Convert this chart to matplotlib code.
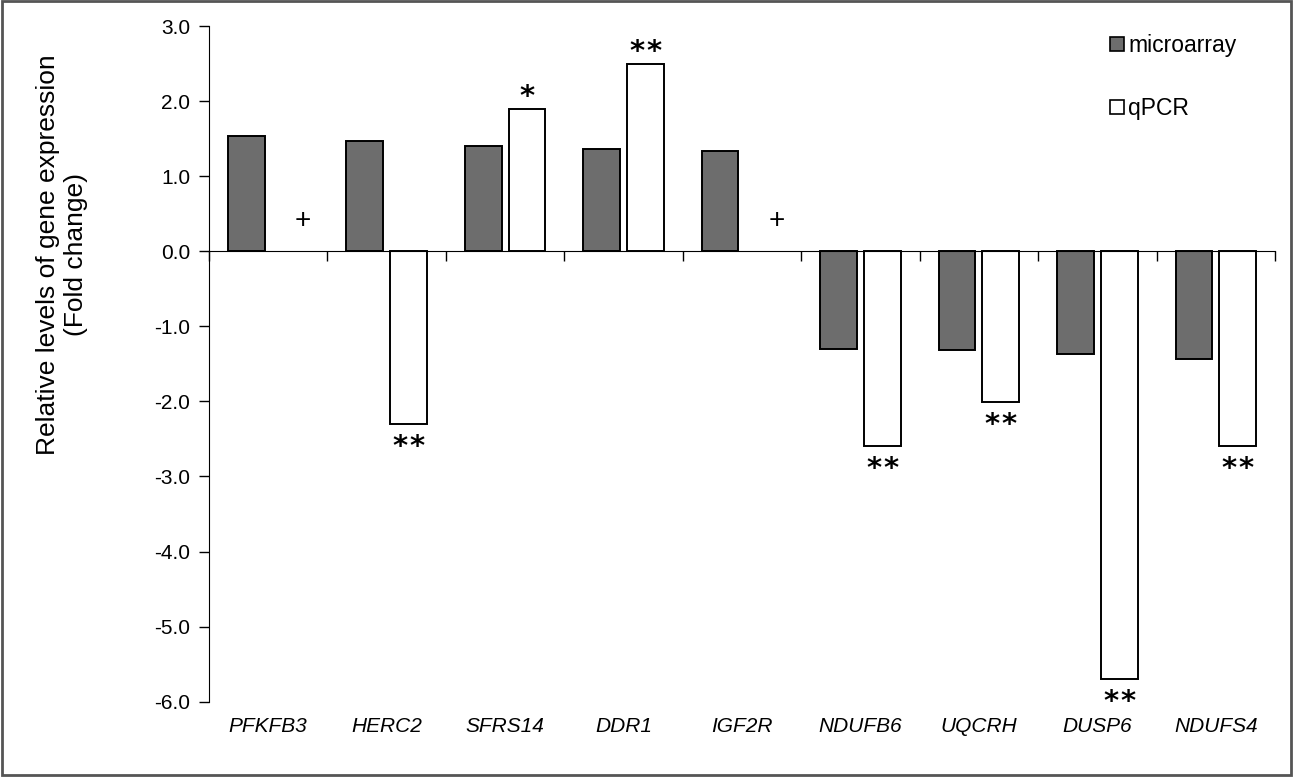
import numpy as np
import matplotlib
matplotlib.use("Agg")
import matplotlib.pyplot as plt
from matplotlib.patches import Rectangle, Patch
from matplotlib.transforms import blended_transform_factory

# ── Data ──────────────────────────────────────────────────────────────────────
GENES      = ["PFKFB3", "HERC2", "SFRS14", "DDR1", "IGF2R",
              "NDUFB6", "UQCRH", "DUSP6", "NDUFS4"]
MICROARRAY = [1.53, 1.47, 1.40, 1.36, 1.33, -1.30, -1.32, -1.37, -1.44]
QPCR       = [np.nan, -2.30, 1.90, 2.50, np.nan, -2.59, -2.01, -5.70, -2.59]
SIGNIF     = ["+", "**", "*", "**", "+", "**", "**", "**", "**"]
PLUS_LEVEL = 0.40   # where the "+" marks sit for genes without a qPCR bar

Y_TICKS = [3.0, 2.0, 1.0, 0.0, -1.0, -2.0, -3.0, -4.0, -5.0, -6.0]

# ── Style ─────────────────────────────────────────────────────────────────────
DARK = "#6d6d6d"
plt.rcParams["font.family"] = ["Liberation Sans", "DejaVu Sans"]
plt.rcParams["axes.unicode_minus"] = False

W, H = 1294, 777
fig = plt.figure(figsize=(W / 100, H / 100), dpi=100)
ax = fig.add_axes([209 / W, 1 - 701.7 / H, (1275 - 209) / W, (701.7 - 26) / H])

x = np.arange(len(GENES))
bw, off = 0.31, 0.185

ax.bar(x - off, MICROARRAY, bw, color=DARK, edgecolor="black", linewidth=1.4, zorder=3)
ax.bar(x + off, QPCR, bw, color="white", edgecolor="black", linewidth=1.4, zorder=3)


def star_marks(ax, xc, y, n, below):
    """Draw n asterisks centred on xc, just above / below a bar end."""
    dy, va = (-6.5, "top") if below else (-2, "bottom")
    for k in range(n):
        dx = (k - (n - 1) / 2) * 12.5
        ax.annotate("*", (xc, y), xytext=(dx, dy), textcoords="offset points",
                    ha="center", va=va, fontsize=21, fontweight="bold",
                    family="DejaVu Sans")


for i, mark in enumerate(SIGNIF):
    if mark == "+":
        ax.text(i + 0.29, PLUS_LEVEL, "+", ha="center", va="center",
                fontsize=20, zorder=4)
    else:
        star_marks(ax, i + off, QPCR[i], len(mark), QPCR[i] < 0)

# ── Axes ──────────────────────────────────────────────────────────────────────
ax.set_xlim(-0.5, len(GENES) - 0.5)
ax.set_ylim(-6.0, 3.0)
ax.set_yticks(Y_TICKS)
ax.set_yticklabels([f"{v:.1f}" for v in Y_TICKS], fontsize=15)
ax.tick_params(axis="y", direction="out", length=7, width=1, pad=6.5)

ax.spines["top"].set_visible(False)
ax.spines["right"].set_visible(False)
ax.spines["bottom"].set_position(("data", 0))
ax.spines["bottom"].set_zorder(4)
ax.set_xticks(np.arange(len(GENES) + 1) - 0.5)
ax.set_xticklabels([])
ax.tick_params(axis="x", direction="out", length=7, width=1)

trans = blended_transform_factory(ax.transData, ax.transAxes)
for i, g in enumerate(GENES):
    ax.text(i, -0.036, g, transform=trans, ha="center", va="center",
            fontsize=15, style="italic")

fig.text(62 / W, 1 - 255 / H, "Relative levels of gene expression\n(Fold change)",
         rotation=90, ha="center", va="center", multialignment="center", fontsize=19)

handles = [Patch(facecolor=DARK, edgecolor="black", linewidth=1.2, label="microarray"),
           Patch(facecolor="white", edgecolor="black", linewidth=1.2, label="qPCR")]
fig.legend(handles=handles, loc="upper left", bbox_to_anchor=(1110 / W, 1 - 34 / H),
           frameon=False, fontsize=16.5, handlelength=0.6, handleheight=0.6,
           handletextpad=0.2, labelspacing=1.75, borderpad=0, borderaxespad=0)

# outer frame
fig.patches.append(Rectangle((2 / W, 2 / H), 1289 / W, 774 / H, transform=fig.transFigure,
                             fill=False, edgecolor="#555555", linewidth=2))

fig.savefig("out.png", dpi=100)
